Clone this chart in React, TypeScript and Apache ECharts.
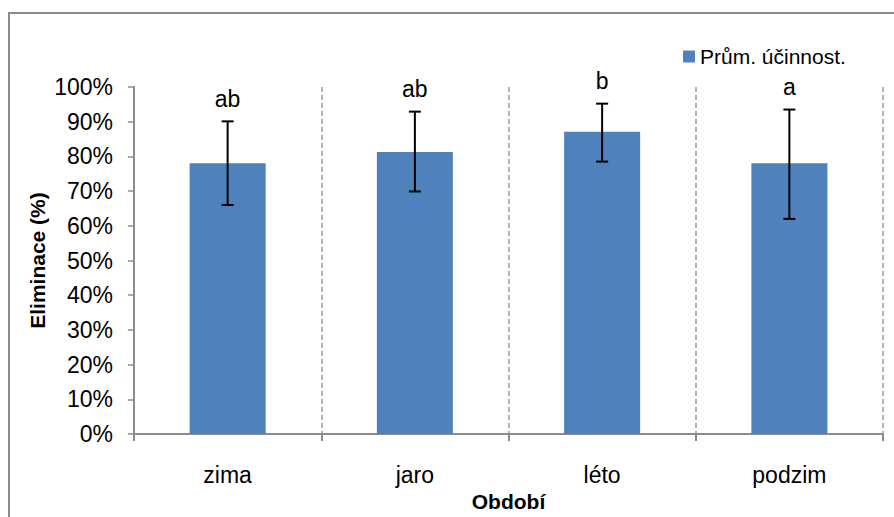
import React, { useEffect, useRef } from "react";
import * as echarts from "echarts";

const categories = ["zima", "jaro", "léto", "podzim"];
const means = [0.78, 0.813, 0.871, 0.78];
const errLow = [0.66, 0.699, 0.785, 0.62];
const errHigh = [0.901, 0.929, 0.952, 0.935];
const letters = ["ab", "ab", "b", "a"];
const seriesName = "Prům. účinnost.";
const FONT = "'Liberation Sans', Arial, sans-serif";

export default function App() {
  const ref = useRef<HTMLDivElement>(null);
  useEffect(() => {
    if (!ref.current) return;
    const chart = echarts.init(ref.current, null, { renderer: "svg" });
    const errData = categories.map((_, i) => [i, errLow[i], errHigh[i], letters[i]]);
    chart.setOption({
      animation: false,
      backgroundColor: "#ffffff",
      textStyle: { fontFamily: FONT },
      graphic: [
        {
          type: "rect",
          shape: { x: 9, y: 13, width: 920, height: 540 },
          style: { fill: "none", stroke: "#8c8c8c", lineWidth: 2 },
          silent: true,
        },
      ],
      legend: {
        data: [seriesName],
        left: 678,
        top: 41,
        icon: "rect",
        itemWidth: 12,
        itemHeight: 12,
        itemGap: 5,
        textStyle: { fontSize: 21, color: "#000", fontFamily: FONT },
      },
      grid: { left: 134, right: 11, top: 87, bottom: 80 },
      xAxis: {
        type: "category",
        data: categories,
        axisLine: { lineStyle: { color: "#8c8c8c", width: 2 } },
        axisTick: { show: true, length: 7, lineStyle: { color: "#8c8c8c", width: 2 } },
        axisLabel: { fontSize: 23, color: "#000", margin: 29, fontFamily: FONT },
        splitLine: { show: true, lineStyle: { color: "#9a9a9a", type: [5, 3], width: 1.5 } },
        name: "Období",
        nameLocation: "middle",
        nameGap: 57,
        nameMoveOverlap: false,
        nameTextStyle: { fontSize: 21, fontWeight: "bold", color: "#000", fontFamily: FONT },
      },
      yAxis: {
        type: "value",
        min: 0,
        max: 1,
        interval: 0.1,
        axisLine: { show: true, lineStyle: { color: "#8c8c8c", width: 2 } },
        axisTick: { show: true, length: 6, lineStyle: { color: "#8c8c8c", width: 1.5 } },
        axisLabel: {
          fontSize: 23,
          color: "#000",
          margin: 21,
          fontFamily: FONT,
          formatter: (v: number) => Math.round(v * 100) + "%",
        },
        splitLine: { show: false },
        name: "Eliminace (%)",
        nameLocation: "middle",
        nameGap: 86,
        nameMoveOverlap: false,
        nameTextStyle: { fontSize: 21, fontWeight: "bold", color: "#000", fontFamily: FONT },
      },
      series: [
        {
          name: seriesName,
          type: "bar",
          data: means,
          barWidth: "40.6%",
          itemStyle: { color: "#4f81bd" },
        },
        {
          type: "custom",
          name: "err",
          data: errData,
          z: 10,
          renderItem: (params: any, api: any) => {
            const i = api.value(0);
            const lo = api.coord([i, api.value(1)]);
            const hi = api.coord([i, api.value(2)]);
            const x = lo[0];
            const cap = 6;
            const st = { stroke: "#000", lineWidth: 2 };
            return {
              type: "group",
              children: [
                { type: "line", shape: { x1: x, y1: lo[1], x2: x, y2: hi[1] }, style: st },
                { type: "line", shape: { x1: x - cap, y1: lo[1], x2: x + cap, y2: lo[1] }, style: st },
                { type: "line", shape: { x1: x - cap, y1: hi[1], x2: x + cap, y2: hi[1] }, style: st },
                {
                  type: "text",
                  style: {
                    text: letters[params.dataIndex],
                    x: x,
                    y: hi[1] - 11,
                    align: "center",
                    verticalAlign: "bottom",
                    fontSize: 23,
                    fontFamily: FONT,
                    fill: "#000",
                  },
                },
              ],
            };
          },
        },
      ],
    });
    return () => chart.dispose();
  }, []);
  return (
    <div
      ref={ref}
      style={{ position: "fixed", left: 0, top: 0, width: 894, height: 517 }}
    />
  );
}
